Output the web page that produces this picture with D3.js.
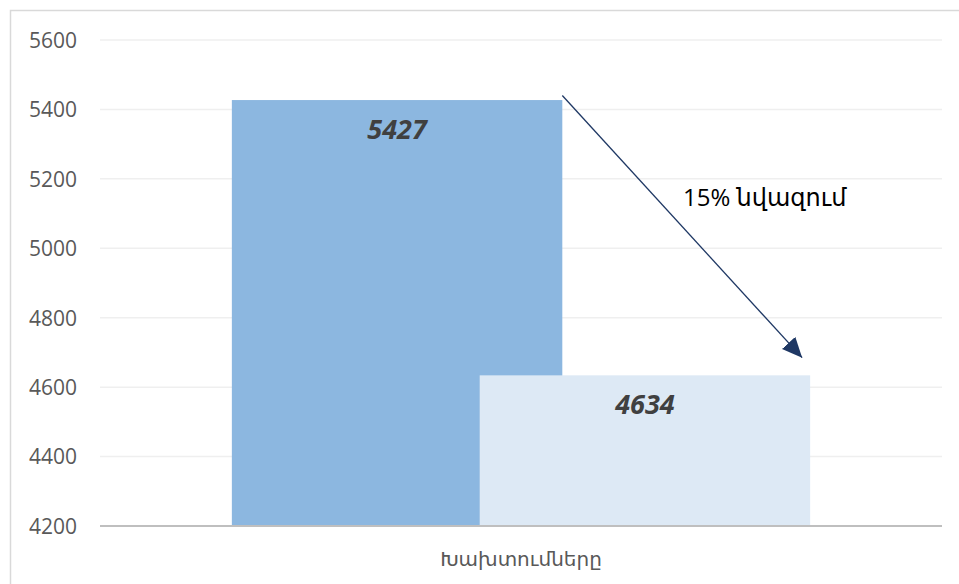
<!DOCTYPE html>
<html><head><meta charset="utf-8">
<script src="https://cdn.jsdelivr.net/npm/d3@7"></script>
<style>
html,body{margin:0;padding:0;background:#fff;}
svg{display:block;}
</style></head>
<body>
<script>
const categories = ["Խախտումները"];
const seriesNames = ["Նախորդ", "Ընթացիկ"];
const seriesValues = [5427, 4634];
const seriesColors = ["#8cb7e0", "#dde9f5"];
const yTicks = [4200, 4400, 4600, 4800, 5000, 5200, 5400, 5600];
const annotationText = "15% նվազում";
const arrowValues = [5440, 4685];

const W = 959, H = 584;
const m = {left: 100, right: 17, top: 40, bottom: 58};
const font = "'Open Sans','Noto Sans','DejaVu Sans',sans-serif";

const svg = d3.select("body").append("svg").attr("width", W).attr("height", H);
svg.append("rect").attr("x", 10.5).attr("y", 10.5).attr("width", W).attr("height", H)
  .attr("fill", "#fff").attr("stroke", "#d9d9d9").attr("stroke-width", 1.5);

const y = d3.scaleLinear().domain([4200, 5600]).range([H - m.bottom, m.top]);
const x = d3.scaleBand().domain(categories).range([m.left, W - m.right]).paddingOuter(0.228).paddingInner(0);
const overlap = 0.25;
const bw = x.bandwidth() / (seriesValues.length - overlap * (seriesValues.length - 1));
const barX = i => x(categories[0]) + i * bw * (1 - overlap);

// gridlines
svg.append("g").selectAll("line").data(yTicks.slice(1)).join("line")
  .attr("x1", m.left).attr("x2", W - m.right)
  .attr("y1", d => y(d)).attr("y2", d => y(d))
  .attr("stroke", "#efefef").attr("stroke-width", 1.5);

// y axis labels
const yAxis = d3.axisLeft(y).tickValues(yTicks).tickSize(0).tickPadding(0).tickFormat(d3.format("d"));
const ga = svg.append("g").attr("transform", `translate(${m.left - 23},0)`).call(yAxis);
ga.select(".domain").remove();
ga.selectAll("text").attr("font-family", font).attr("font-size", 21).attr("fill", "#595959").attr("dy", "0.35em");

// bars
svg.append("g").selectAll("rect").data(seriesValues).join("rect")
  .attr("x", (d, i) => barX(i)).attr("width", bw)
  .attr("y", d => y(d)).attr("height", d => y(4200) - y(d))
  .attr("fill", (d, i) => seriesColors[i]);

// x axis line
svg.append("line").attr("x1", m.left).attr("x2", W - m.right)
  .attr("y1", y(4200)).attr("y2", y(4200)).attr("stroke", "#bfbfbf").attr("stroke-width", 2);

// x label
svg.append("text").attr("x", x(categories[0]) + x.bandwidth() / 2).attr("y", y(4200) + 40)
  .attr("text-anchor", "middle").attr("font-family", font).attr("font-size", 20).attr("fill", "#595959")
  .text(categories[0]);

// data labels
svg.append("g").selectAll("text").data(seriesValues).join("text")
  .attr("x", (d, i) => barX(i) + bw / 2).attr("y", d => y(d) + 39)
  .attr("text-anchor", "middle").attr("font-family", font).attr("font-size", 27)
  .attr("font-weight", "bold").attr("font-style", "italic").attr("fill", "#404040")
  .text(d => d);

// arrow
const defs = svg.append("defs");
defs.append("marker").attr("id", "ah").attr("viewBox", "0 0 10 10").attr("refX", 10).attr("refY", 5)
  .attr("markerUnits", "userSpaceOnUse").attr("orient", "auto")
  .attr("markerWidth", 20).attr("markerHeight", 20)
  .append("path").attr("d", "M0,0.5 L10,5 L0,9.5 Z").attr("fill", "#1f3864");
svg.append("line")
  .attr("x1", barX(0) + bw).attr("y1", y(arrowValues[0]))
  .attr("x2", barX(1) + bw - 8).attr("y2", y(arrowValues[1]))
  .attr("stroke", "#1f3864").attr("stroke-width", 1.3).attr("marker-end", "url(#ah)");

svg.append("text").attr("x", 683).attr("y", 206)
  .attr("font-family", font).attr("font-size", 24).attr("fill", "#000").text(annotationText);
</script>
</body></html>
